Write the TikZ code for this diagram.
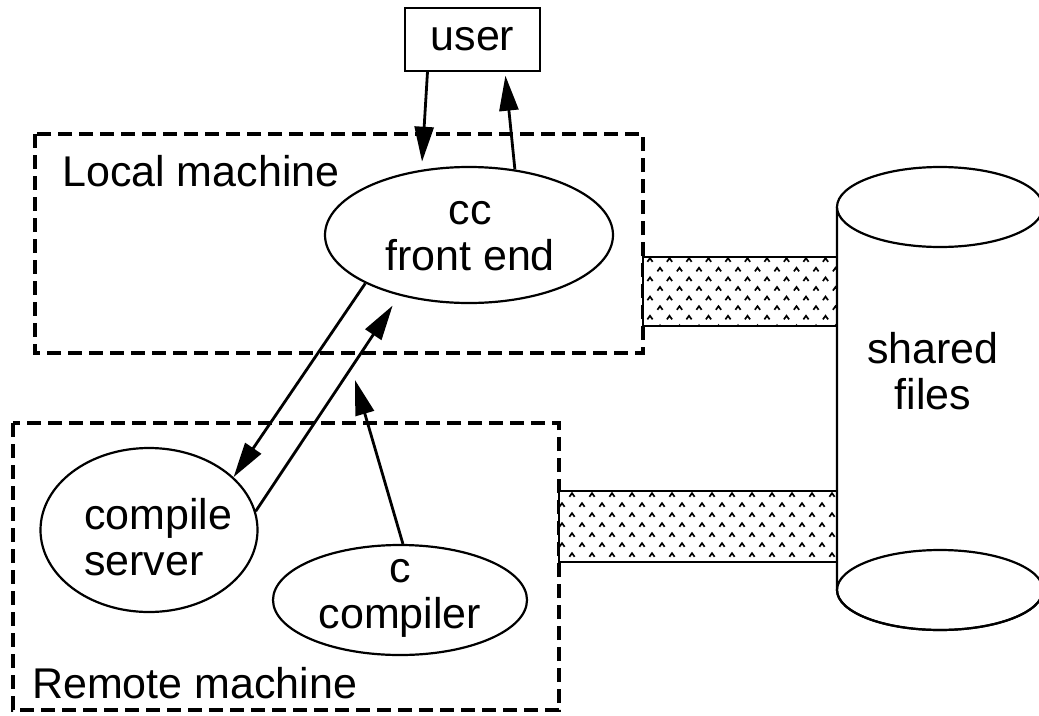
\documentclass[tikz,border=0pt]{standalone}
\usepackage{fontspec}
\setmainfont{Liberation Sans}
\usetikzlibrary{shapes.geometric,arrows.meta}
\tikzset{
  lbl/.style={font=\fontsize{43}{46}\selectfont, align=center, inner sep=0pt},
  oval/.style={ellipse, draw, line width=2.2pt, inner sep=0pt},
  arr/.style={line width=2.8pt, -{Triangle[length=35pt,width=19pt]}},
  mach/.style={line width=3.6pt, dash pattern=on 14pt off 7pt},
  bar/.style={line width=1.4pt, fill=white},
  caret/.style={line width=1.7pt},
}
\begin{document}
\begin{tikzpicture}[x=1pt,y=-1pt]
\useasboundingbox (0,0) rectangle (1039,715);
% machine boxes
\draw[mach] (35,134) rectangle (643,353);
\draw[mach] (13,423) rectangle (559,710);
\node[lbl, anchor=base west] (localtxt) at (62,186) {Local machine};
\node[lbl, anchor=base west] (remotetxt) at (32,698) {Remote machine};
% connection bars
\draw[bar] (643,257) rectangle (837,326);
\draw[bar] (559,491) rectangle (837,562);
\begin{scope}
\clip (644,258) rectangle (836,325);
\foreach \r in {0,...,7} {
  \pgfmathsetmacro\yy{260+9.6*\r}
  \pgfmathsetmacro\xo{mod(\r,2)==0 ? 650 : 660}
  \foreach \c in {0,...,10} {
    \draw[caret] (\xo+19.5*\c-2.6,\yy+1.8) -- (\xo+19.5*\c,\yy-1.8) -- (\xo+19.5*\c+2.6,\yy+1.8);
  }
}
\end{scope}
\begin{scope}
\clip (560,492) rectangle (836,561);
\foreach \r in {0,...,7} {
  \pgfmathsetmacro\yy{495+10*\r}
  \pgfmathsetmacro\xo{mod(\r,2)==0 ? 572 : 562}
  \foreach \c in {0,...,14} {
    \draw[caret] (\xo+20*\c-2.6,\yy+1.8) -- (\xo+20*\c,\yy-1.8) -- (\xo+20*\c+2.6,\yy+1.8);
  }
}
\end{scope}
% shared files cylinder
\draw[line width=2.2pt, fill=white] (837,207) -- (837,590) arc[start angle=180, end angle=360, x radius=103, y radius=-40] -- (1043,207);
\draw[line width=2.2pt, fill=white] (940,207) ellipse[x radius=103, y radius=40];
\draw[line width=2.2pt] (940,590) ellipse[x radius=103, y radius=40];
\node[lbl] (shared) at (933,371) {shared\\files};
% user
\node[draw, line width=1.4pt, minimum width=135pt, minimum height=63pt, inner sep=0pt, font=\fontsize{43}{46}\selectfont] (user) at (472.5,39.5) {user};
% processes
\node[oval, minimum width=288pt, minimum height=136pt] (cc) at (469,235) {};
\node[lbl] (cctxt) at (470,236) {cc\\front end};
\node[oval, minimum width=217pt, minimum height=164pt] (cs) at (149,530) {};
\node[lbl, align=left, anchor=west] (cstxt) at (84,537) {compile\\server};
\node[oval, minimum width=254pt, minimum height=110pt] (ccomp) at (400,600) {};
\node[lbl] (ccomptxt) at (400,598) {c\\compiler};
\coordinate (ctip) at (355,380);
% arrows
\draw[arr, shorten >=8pt] ([xshift=-45pt]user.south) -- (cc.126.8);
\draw[arr, shorten >=4pt] (cc.55.1) -- ([xshift=32.5pt]user.south);
\draw[arr] (cc.205.2) -- (cs.32);
\draw[arr, shorten >=12pt] (cs.10) -- (cc.221.8);
\draw[arr] (ccomp.87) -- (ctip);
\end{tikzpicture}
\end{document}
